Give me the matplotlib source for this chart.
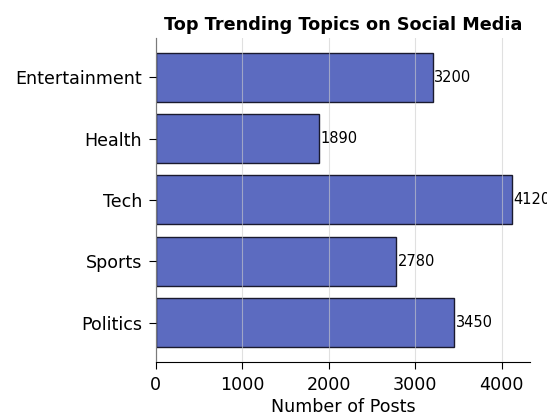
import matplotlib.pyplot as plt

plt.rcParams["font.family"] = ["DejaVu Sans"]

topics = ["Politics", "Sports", "Tech", "Health", "Entertainment"]
posts = [3450, 2780, 4120, 1890, 3200]

fig = plt.figure(figsize=(5.47, 4.17), dpi=100)
ax = fig.add_subplot()
fig.subplots_adjust(left=0.285, right=0.969, top=0.909, bottom=0.132)

bars = ax.barh(topics, posts, height=0.8, color="#5c6bc0", edgecolor="#1a1a2e", linewidth=1)
for b, v in zip(bars, posts):
    ax.text(b.get_width() + 15, b.get_y() + b.get_height() / 2, str(v),
            va="center", ha="left", fontsize=10.5, clip_on=False)

ax.set_xlim(0, 4326)
ax.set_xlabel("Number of Posts", fontsize=12.6, labelpad=3)
ax.set_title("Top Trending Topics on Social Media", fontsize=12.7, fontweight="bold", pad=6)
ax.tick_params(axis="both", labelsize=12.6, length=5, pad=5)
ax.grid(axis="x", color="#cccccc", alpha=0.6)
ax.set_axisbelow(False)
ax.spines["top"].set_visible(False)
ax.spines["right"].set_visible(False)

fig.savefig("out.png", dpi=100)
